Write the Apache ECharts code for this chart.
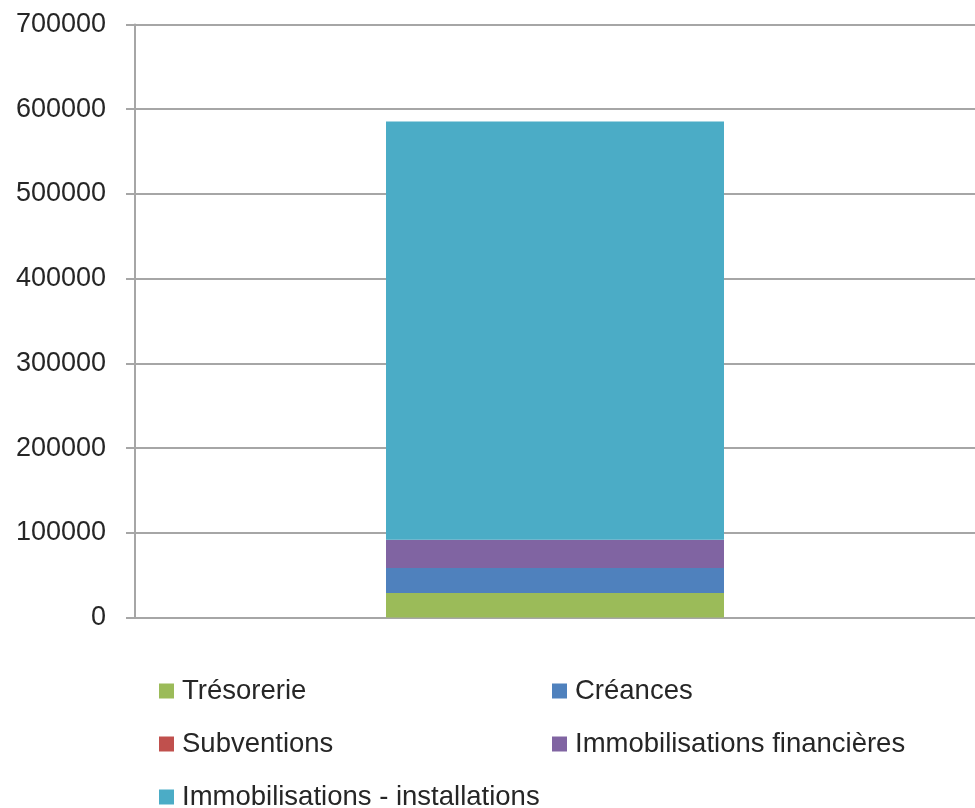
<!DOCTYPE html>
<html>
<head>
<meta charset="utf-8">
<script src="https://cdn.jsdelivr.net/npm/echarts@6/dist/echarts.min.js"></script>
<style>
html,body{margin:0;padding:0;background:#fff;}
#chart{width:975px;height:808px;}
</style>
</head>
<body>
<div id="chart"></div>
<script>
const categories = [''];
const seriesNames = ['Trésorerie', 'Créances', 'Subventions', 'Immobilisations financières', 'Immobilisations - installations'];
const tresorerie = [28800];
const creances = [29500];
const subventions = [0];
const immoFinancieres = [33400];
const immoInstallations = [493900];
const seriesColors = ['#9BBB59', '#4F81BD', '#C0504D', '#8064A2', '#4BACC6'];
const yTicks = { min: 0, max: 700000, interval: 100000 };

const values = [tresorerie, creances, subventions, immoFinancieres, immoInstallations];
const FONT = '"Liberation Sans", Arial, sans-serif';
const GRID_COLOR = '#A6A6A6';
const TEXT_COLOR = '#262626';

const chart = echarts.init(document.getElementById('chart'), null, { renderer: 'canvas' });
const legendText = { fontFamily: FONT, fontSize: 27.5, color: TEXT_COLOR, padding: [0, 0, 0, 3], lineHeight: 27 };
chart.setOption({
  animation: false,
  color: seriesColors,
  grid: { left: 135, right: 0, top: 24.5, bottom: 190.5, containLabel: false },
  legend: [
    {
      data: [seriesNames[0], seriesNames[2], seriesNames[4]],
      orient: 'vertical', left: 159, top: 677, height: 200, padding: 0,
      icon: 'rect', itemWidth: 15, itemHeight: 15, itemGap: 25,
      textStyle: legendText, selectedMode: false
    },
    {
      data: [seriesNames[1], seriesNames[3]],
      orient: 'vertical', left: 552, top: 677, height: 200, padding: 0,
      icon: 'rect', itemWidth: 15, itemHeight: 15, itemGap: 25,
      textStyle: legendText, selectedMode: false
    }
  ],
  xAxis: {
    type: 'category', data: categories,
    axisLine: { show: true, lineStyle: { color: GRID_COLOR, width: 2 } },
    axisTick: { show: false }, axisLabel: { show: false }, splitLine: { show: false }
  },
  yAxis: {
    type: 'value', min: yTicks.min, max: yTicks.max, interval: yTicks.interval,
    axisLine: { show: true, lineStyle: { color: GRID_COLOR, width: 2 } },
    axisTick: { show: true, inside: false, length: 9, lineStyle: { color: GRID_COLOR, width: 2 } },
    splitLine: { show: true, lineStyle: { color: GRID_COLOR, width: 2 } },
    axisLabel: { margin: 29, fontFamily: FONT, fontSize: 27, color: TEXT_COLOR, formatter: v => String(v) }
  },
  series: seriesNames.map((name, i) => ({
    name: name, type: 'bar', stack: 'total', data: values[i],
    barWidth: 338,
    itemStyle: { color: seriesColors[i] }
  }))
});
</script>
</body>
</html>
